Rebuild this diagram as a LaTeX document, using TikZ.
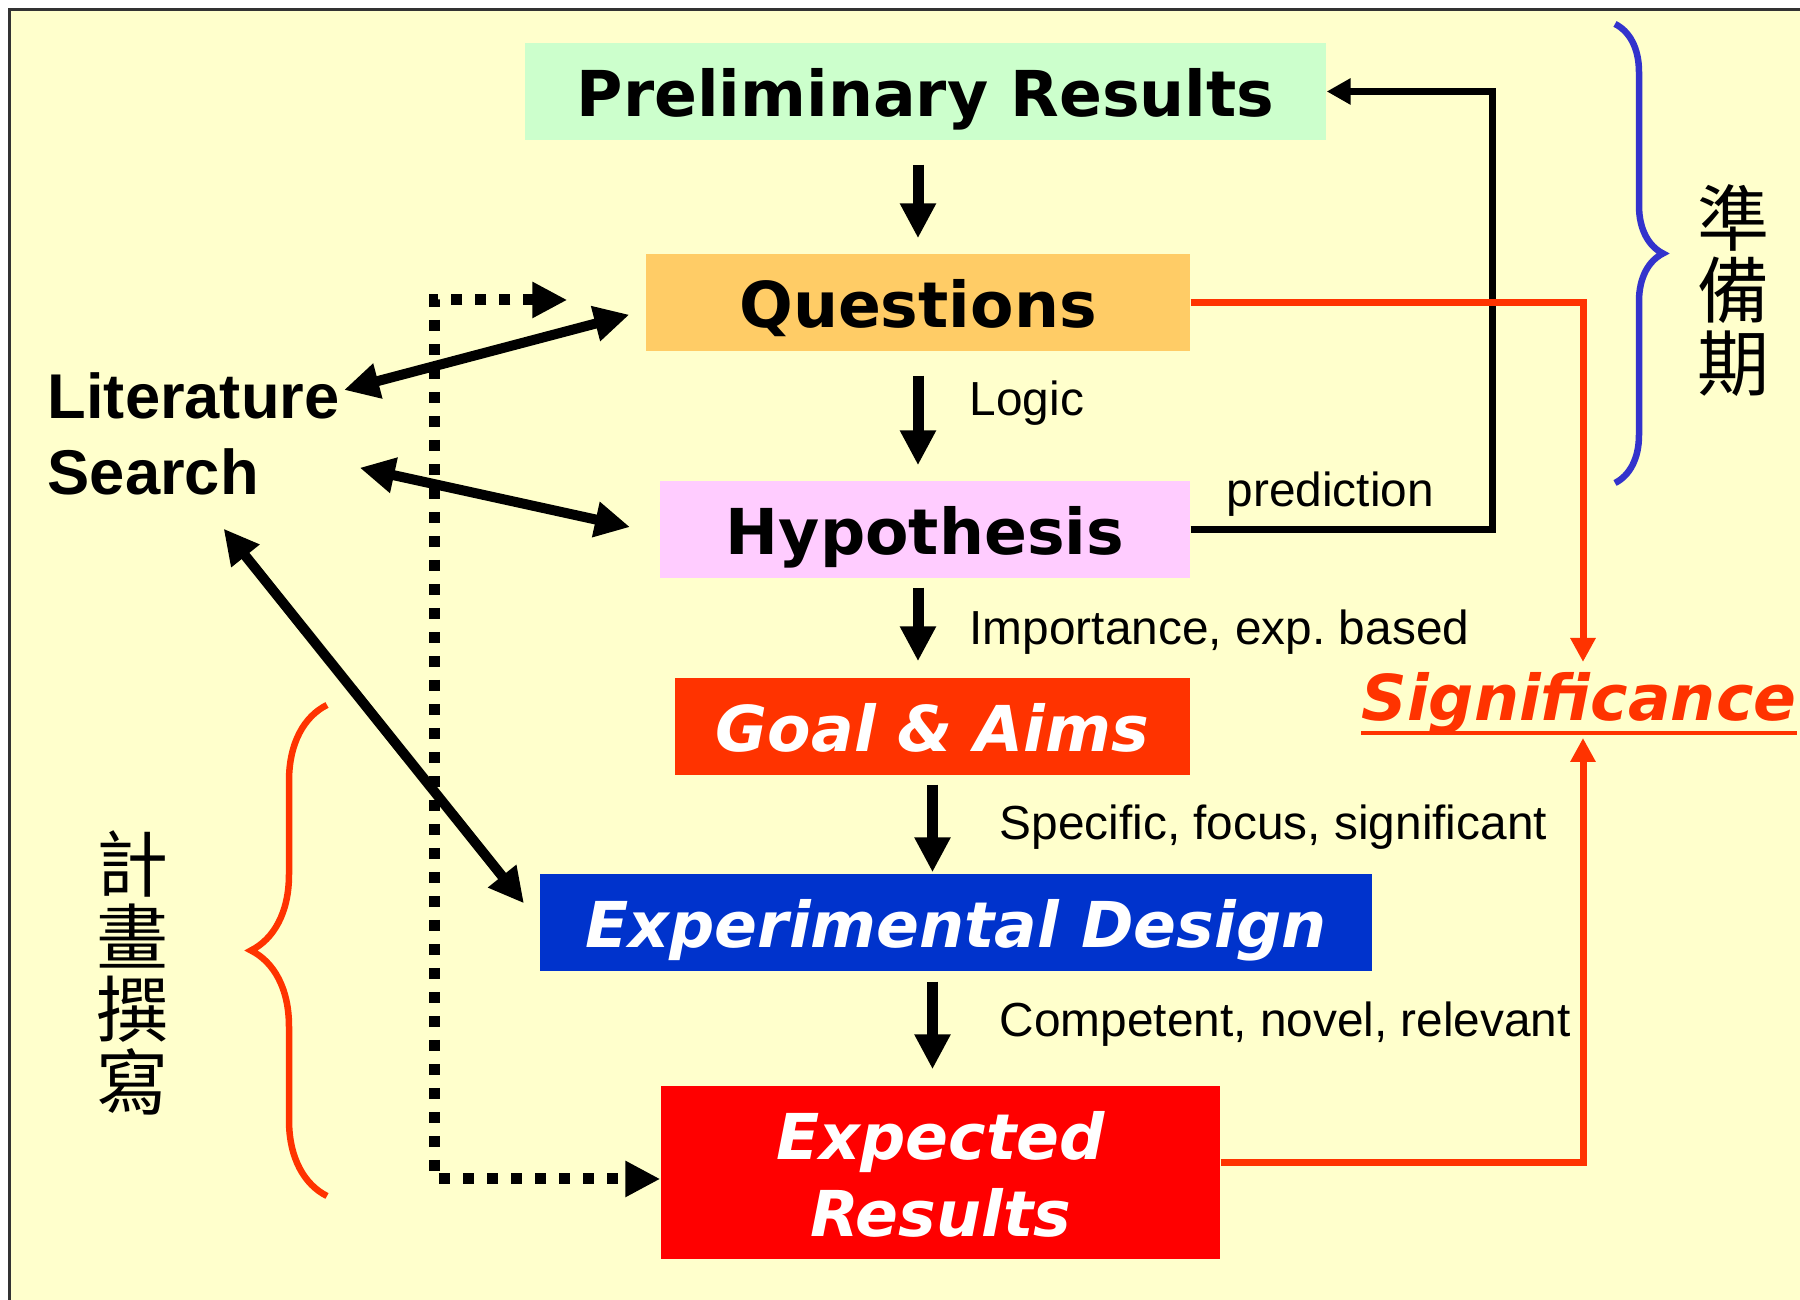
\documentclass[tikz,border=0pt]{standalone}
\usepackage{fontspec}
\usetikzlibrary{arrows.meta,decorations.pathreplacing}
\newfontfamily\boxfont{DejaVu Sans}
\newfontfamily\labelfont{Liberation Sans}
\newfontfamily\cjkfont{Noto Sans CJK TC}
\definecolor{bgyellow}{HTML}{FFFFCC}
\definecolor{prelimgreen}{HTML}{CCFFCC}
\definecolor{questorange}{HTML}{FFCC66}
\definecolor{hypopink}{HTML}{FFCCFF}
\definecolor{goalred}{HTML}{FF3300}
\definecolor{designblue}{HTML}{0033CC}
\definecolor{resultred}{HTML}{FF0000}
\definecolor{sigred}{HTML}{FF3300}
\definecolor{prepblue}{HTML}{3333CC}

\begin{document}
\begin{tikzpicture}[x=1cm,y=1cm,>={Triangle[length=0.35cm,width=0.34cm]},
  stepbox/.style={rectangle,inner sep=0pt,minimum height=0.97cm,text height=14.5pt,text depth=0pt,font=\boxfont\bfseries\fontsize{18}{21.8}\selectfont},
  whitebox/.style={stepbox,text=white,font=\boxfont\bfseries\itshape\fontsize{18}{21.8}\selectfont},
  note/.style={anchor=base west,inner sep=0pt,font=\labelfont\fontsize{13.6}{16}\selectfont},
  vtext/.style={inner sep=0pt,align=center,font=\cjkfont\fontsize{20.5}{20.6}\selectfont},
  flow/.style={->,line width=0.11cm},
  link/.style={<->,line width=0.1cm},
  dotlink/.style={<->,line width=0.11cm,dash pattern=on 0.11cm off 0.13cm},
  predflow/.style={->,line width=0.07cm,>={Triangle[length=0.24cm,width=0.25cm]}},
  redflow/.style={->,sigred,line width=0.07cm,>={Triangle[length=0.24cm,width=0.24cm]}}]
\useasboundingbox (0,0) rectangle (18,13);
\fill[bgyellow] (0.095,0) rectangle (18,12.905);
\draw[black!80,line width=0.03cm] (0.095,0) -- (0.095,12.905) -- (18,12.905);

\node[stepbox,fill=prelimgreen,minimum width=8.01cm] (prelim) at (9.255,12.085) {Preliminary Results};
\node[stepbox,fill=questorange,minimum width=5.44cm] (quest) at (9.18,9.975) {Questions};
\node[stepbox,fill=hypopink,minimum width=5.30cm] (hypo) at (9.25,7.705) {Hypothesis};
\node[whitebox,fill=goalred,minimum width=5.15cm] (goal) at (9.325,5.735) {Goal \& Aims};
\node[whitebox,fill=designblue,minimum width=8.32cm] (design) at (9.56,3.775) {Experimental Design};
\node[whitebox,fill=resultred,minimum width=5.59cm,minimum height=1.73cm,align=center,text height=36.3pt,text depth=0.1pt] (expect) at (9.405,1.275) {Expected\\Results};

\node[anchor=base west,inner sep=0pt,align=left,font=\labelfont\bfseries\fontsize{18}{21.9}\selectfont,text height=1.24cm,text depth=0.13cm] (lit) at (0.47,8.05) {Literature\\Search};
\node[anchor=base west,inner sep=0pt,text=sigred,font=\boxfont\bfseries\itshape\fontsize{18}{21.8}\selectfont] (sig) at (13.61,5.795) {Significance};
\draw[sigred,line width=0.035cm] ([yshift=-0.125cm]sig.base west) -- ([yshift=-0.125cm]sig.base east);

\node[note] (logic) at (9.69,8.84) {Logic};
\node[note] (importance) at (9.69,6.55) {Importance, exp.\ based};
\node[note] (specific) at (9.99,4.60) {Specific, focus, significant};
\node[note] (competent) at (9.99,2.63) {Competent, novel, relevant};
\node[note] (predlabel) at (12.26,7.93) {prediction};

\node[vtext] (prep) at (17.34,10.095) {準\\備\\期};
\node[vtext] (write) at (1.33,3.27) {計\\畫\\撰\\寫};
\draw[decorate,decoration={brace,amplitude=0.48cm},prepblue,line width=0.065cm] (16.15,12.76) -- (16.15,8.17);
\draw[decorate,decoration={brace,amplitude=0.76cm},sigred,line width=0.065cm] (3.27,1.04) -- (3.27,5.95);

\draw[flow,shorten <=0.24cm,shorten >=0.15cm] (prelim.south -| quest.north) -- (quest.north);
\draw[flow,shorten <=0.24cm,shorten >=0.15cm] (quest.south) -- (hypo.north -| quest.south);
\draw[flow,shorten <=0.09cm,shorten >=0.16cm] (hypo.south -| quest.south) -- (goal.north -| quest.south);
\draw[flow,shorten <=0.09cm,shorten >=0.01cm] (goal.south) -- (design.north -| goal.south);
\draw[flow,shorten <=0.10cm,shorten >=0.16cm] (design.south -| goal.south) -- (expect.north -| goal.south);

\draw[predflow] (hypo.east) -- ++(3.02,0) |- (prelim.east);
\coordinate (sigtop) at (15.83,6.38);
\coordinate (sigbot) at (15.83,5.62);
\draw[redflow] (quest.east) -| (sigtop);
\draw[redflow] ([yshift=0.095cm]expect.east) -| (sigbot);

\draw[dotlink] ([xshift=-0.78cm,yshift=0.025cm]quest.west) -- ++(-1.33,0) |- ([yshift=-0.065cm]expect.west);
\draw[link,shorten <=0.04cm,shorten >=0.165cm] ([yshift=0.485cm]lit.east) -- ([yshift=-0.08cm]quest.west);
\draw[link,shorten <=0.2cm,shorten >=0.3cm] ([yshift=-0.24cm]lit.east) -- ([yshift=-0.04cm]hypo.west);
\draw[link,shorten <=0.256cm,shorten >=0.245cm] ([xshift=0.14cm]lit.south) -- (design.west);
\end{tikzpicture}
\end{document}
